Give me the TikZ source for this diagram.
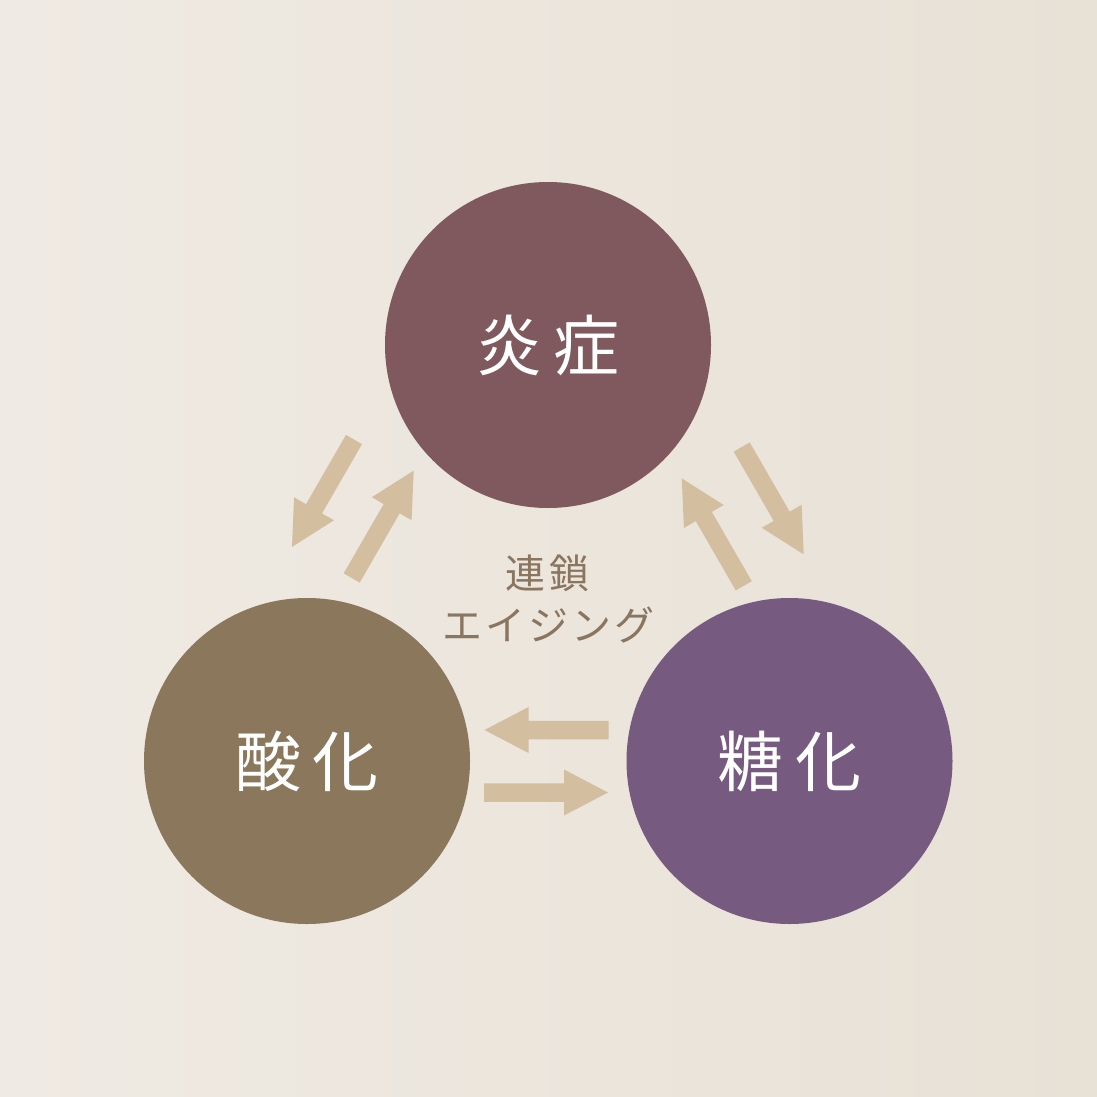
\documentclass[tikz,border=0pt]{standalone}
\usepackage{fontspec}
\newfontfamily\jp{Noto Sans CJK JP}
\usetikzlibrary{calc}
\definecolor{bgL}{HTML}{EFEAE3}
\definecolor{bgR}{HTML}{E8E1D6}
\definecolor{topc}{HTML}{7F595E}
\definecolor{leftc}{HTML}{8A775C}
\definecolor{rightc}{HTML}{765A80}
\definecolor{arrowc}{HTML}{D4BEA0}
\definecolor{midtext}{HTML}{8A7660}
\begin{document}
\begin{tikzpicture}[x=1pt,y=-1pt,
  ball/.style={circle, minimum size=326pt, inner sep=0pt, text=white,
    font=\jp\fontsize{66}{66}\selectfont},
  midlabel/.style={text=midtext, inner sep=0pt, font=\jp\fontsize{40}{40}\selectfont},
  barrow/.pic={\fill[arrowc] (0,-9.25) -- (80,-9.25) -- (80,-23) -- (124,0)
      -- (80,23) -- (80,9.25) -- (0,9.25) -- cycle;}]
\useasboundingbox (0,0) rectangle (1097,1097);
\shade[left color=bgL, right color=bgR] (0,0) rectangle (1097,1097);
% circles
\node[ball, fill=topc] (T) at (548,345) {炎\hspace{12pt}症};
\node[ball, fill=leftc] (L) at (307,761) {酸\hspace{12pt}化};
\node[ball, fill=rightc] (R) at (789.5,761) {糖\hspace{12pt}化};
% center labels
\node[midlabel] (m1) at (547,573) {連\hspace{4pt}鎖};
\node[midlabel] (m2) at (548.5,625) {エ\hspace{3pt}イ\hspace{3pt}ジ\hspace{3pt}ン\hspace{3pt}グ};
% arrows
\coordinate (a1) at (354,439.5);
\coordinate (a2) at (351.7,578);
\coordinate (a3) at (743.8,585.8);
\coordinate (a4) at (741.7,447);
\coordinate (a5) at (608.5,730);
\coordinate (a6) at (484,792.5);
\pic[rotate=240] at (a1) {barrow};
\pic[rotate=60] at (a2) {barrow};
\pic[rotate=120] at (a3) {barrow};
\pic[rotate=300] at (a4) {barrow};
\pic[rotate=180] at (a5) {barrow};
\pic[rotate=0] at (a6) {barrow};
\end{tikzpicture}
\end{document}
